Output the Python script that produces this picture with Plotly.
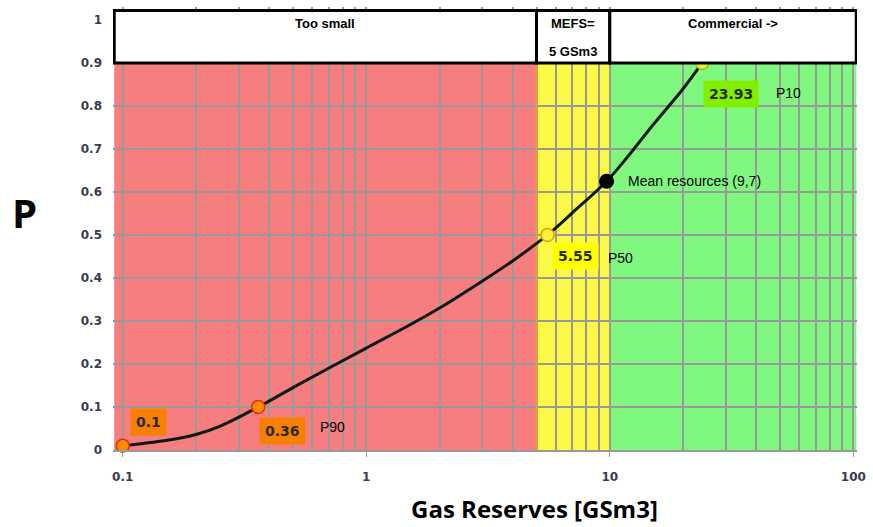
import numpy as np
import plotly.graph_objects as go

# Cumulative probability curve of gas reserves
reserves = [0.1, 0.15, 0.2, 0.25, 0.36, 0.5, 0.7, 1, 1.5, 2, 3, 4, 5.55, 7, 9.7, 12, 15, 20, 23.93]
prob = [0.01, 0.022, 0.036, 0.055, 0.10, 0.145, 0.19, 0.237, 0.29, 0.33, 0.393, 0.44, 0.50,
        0.551, 0.625, 0.686, 0.755, 0.84, 0.90]

# Key points on the curve
key_x = [0.1, 0.36, 5.55, 23.93]
key_p = [0.01, 0.10, 0.50, 0.90]
key_names = ["", "P90", "P50", "P10"]
mean_x, mean_p = [9.7], [0.625]

# Classification zones (GSm3)
zone_edges = [10 ** -1.035, 5, 10, 10 ** 2.012]
zone_lines = [["Too small"], ["MEFS=", "5 GSm3"], ["Commercial ->"]]
zone_colors = ["#f77e7e", "#fcfa46", "#80f880"]

x_ticks = [0.1, 1, 10, 100]
x_tick_text = ["0.1", "1", "10", "100"]
minor_ticks = [m * d for d in (0.1, 1, 10) for m in range(2, 10)]
y_ticks = [round(0.1 * i, 1) for i in range(11)]

fig = go.Figure()

fig.add_trace(go.Scatter(
    x=reserves, y=prob, mode="lines",
    line=dict(color="#0e1a14", width=3, shape="spline", smoothing=1.0),
    hoverinfo="skip", showlegend=False, cliponaxis=False))

marker_fill = ["#ff8c00", "#ff8c00", "#fff23a", "#e4f23c"]
marker_edge = ["#e03010", "#e03010", "#e8a000", "#b0b020"]
fig.add_trace(go.Scatter(
    x=key_x, y=key_p, mode="markers",
    marker=dict(size=13, color=marker_fill, line=dict(color=marker_edge, width=1.5)),
    showlegend=False, cliponaxis=False))
fig.add_trace(go.Scatter(
    x=mean_x, y=mean_p, mode="markers",
    marker=dict(size=15, color="black"), showlegend=False, cliponaxis=False))

# Background zones
for x0, x1, c in zip(zone_edges[:-1], zone_edges[1:], zone_colors):
    fig.add_shape(type="rect", xref="x", yref="y", x0=x0, x1=x1, y0=0, y1=0.9,
                  fillcolor=c, line_width=0, layer="below")
fig.add_shape(type="line", xref="x", yref="y", x0=5, x1=5, y0=0, y1=0.9,
              line=dict(color="#f0a030", width=2), layer="between")

# Header boxes
for x0, x1 in zip(zone_edges[:-1], zone_edges[1:]):
    fig.add_shape(type="rect", xref="x", yref="y", x0=x0, x1=x1, y0=0.9, y1=1.022,
                  fillcolor="white", line=dict(color="black", width=3), layer="above")

hdr_font = dict(family="Liberation Sans, Arial", size=13, color="black")
line_y = [0.991, 0.926]
for (x0, x1), lines in zip(zip(zone_edges[:-1], zone_edges[1:]), zone_lines):
    xc = (np.log10(x0) + np.log10(x1)) / 2
    for ly, txt in zip(line_y, lines):
        fig.add_annotation(x=xc, y=ly, xref="x", yref="y", text=f"<b>{txt}</b>",
                           showarrow=False, font=hdr_font, yanchor="middle")

# Value labels next to key points
lab_bg = ["#f88000", "#f88000", "#ffff00", "#80f000"]
lab_shift = [(26, 24), (24, -24), (28, -21), (29, -31)]
val_font = dict(family="DejaVu Sans", size=14, color="#2a2a1a")
for x, p, bg, (dx, dy) in zip(key_x, key_p, lab_bg, lab_shift):
    fig.add_annotation(x=np.log10(x), y=p, xref="x", yref="y", text=f"<b>{x:g}</b>",
                       showarrow=False, font=val_font, bgcolor=bg, borderpad=5,
                       xshift=dx, yshift=dy)

name_shift = [(0, 0), (74, -20), (73, -23), (86, -30)]
name_font = dict(family="Liberation Sans, Arial", size=14, color="black")
for x, p, name, (dx, dy) in zip(key_x, key_p, key_names, name_shift):
    if name:
        fig.add_annotation(x=np.log10(x), y=p, xref="x", yref="y", text=name,
                           showarrow=False, font=name_font, xshift=dx, yshift=dy)

fig.add_annotation(x=np.log10(mean_x[0]), y=mean_p[0], xref="x", yref="y",
                   text=f"Mean resources ({mean_x[0]:g})".replace(".", ","),
                   showarrow=False, font=name_font, xanchor="left", xshift=19)

# Axis titles
fig.add_annotation(x=-0.119, y=0.535, xref="paper", yref="paper", text="<b>P</b>",
                   showarrow=False, xanchor="center", yanchor="middle",
                   font=dict(family="Open Sans", size=40, color="black"))
fig.add_annotation(x=0.566, y=-0.133, xref="paper", yref="paper", text="<b>Gas Reserves [GSm3]</b>",
                   showarrow=False, xanchor="center", yanchor="middle",
                   font=dict(family="Open Sans", size=24, color="black"))

tick_font = dict(family="DejaVu Sans", size=12, color="#3a3a50", weight="bold")
fig.update_xaxes(type="log", range=[-1.04, 2.015], tickvals=x_ticks, ticktext=x_tick_text,
                 showgrid=True, gridcolor="#999999", gridwidth=1.5,
                 minor=dict(tickvals=minor_ticks, showgrid=True, gridcolor="#999999", gridwidth=1.5, ticks=""),
                 ticks="outside", ticklen=5, tickcolor="#999999", showline=True, linecolor="#999999",
                 linewidth=1.5, zeroline=False, tickfont=tick_font, ticklabelstandoff=10)
fig.update_yaxes(range=[0, 1.03], tickvals=y_ticks, showgrid=True, gridcolor="#999999", gridwidth=1.5,
                 zeroline=False, showline=False, tickfont=tick_font, ticklabelstandoff=10)

fig.update_layout(width=873, height=527, margin=dict(l=113, r=14, t=7, b=77),
                  plot_bgcolor="white", paper_bgcolor="white", showlegend=False)

fig.write_html("out.html")
